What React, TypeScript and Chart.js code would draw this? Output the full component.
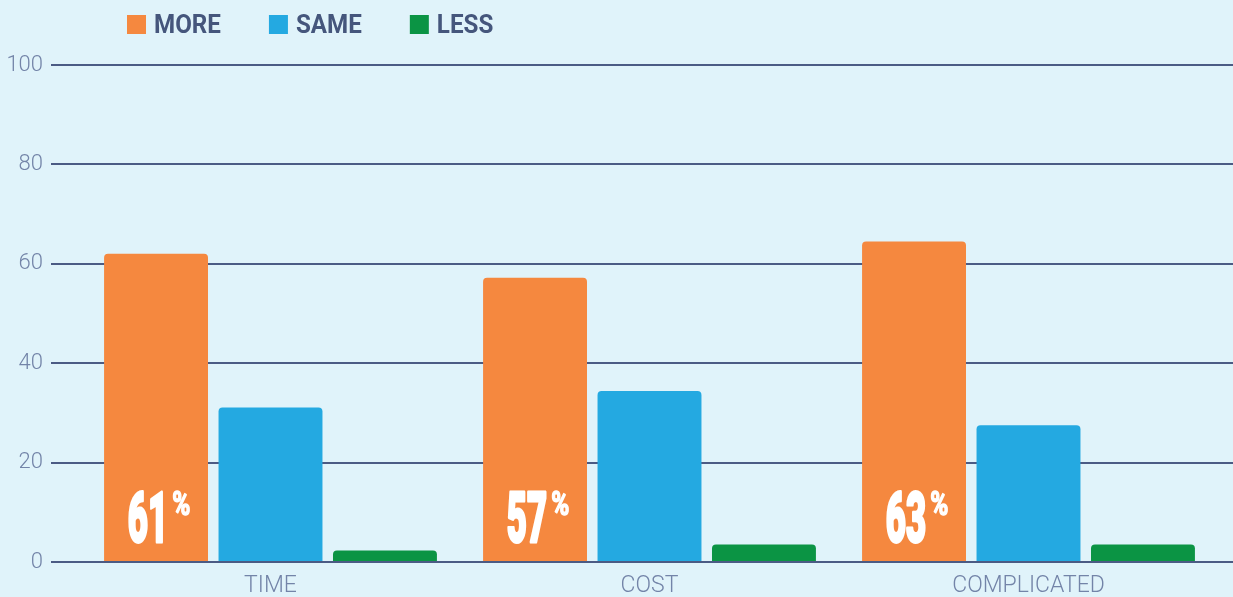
import React, { useEffect, useRef } from "react";
import { Chart, registerables } from "chart.js";

Chart.register(...registerables);

// ---- data ----
const categories = ["TIME", "COST", "COMPLICATED"];
const seriesNames = ["MORE", "SAME", "LESS"];
const moreValues = [62.0, 57.2, 64.5];
const sameValues = [31.1, 34.4, 27.5];
const lessValues = [2.3, 3.5, 3.5];
const moreLabels = ["61", "57", "63"];
const yTickValues = [0, 20, 40, 60, 80, 100];

// ---- styles ----
const seriesColors = ["#f5883f", "#24a9e1", "#0b9444"];
const BG = "#e0f3fa";
const GRID = "#4b5b84";
const TICK_COLOR = "#7384a8";
const LEGEND_TEXT = "#45567c";

const barLabelPlugin = {
  id: "barLabels",
  afterDatasetsDraw(chart: any) {
    const meta = chart.getDatasetMeta(0);
    const ctx = chart.ctx as CanvasRenderingContext2D;
    meta.data.forEach((bar: any, i: number) => {
      const label = moreLabels[i];
      if (!label) return;
      const { x, base } = bar.getProps(["x", "base"], true);
      const numFont = '900 71px "Roboto"';
      const pctFont = '700 33px "Roboto"';
      const sxNum = 0.49;
      const sxPct = 0.74;
      ctx.save();
      ctx.fillStyle = "#ffffff";
      ctx.strokeStyle = "#ffffff";
      ctx.lineJoin = "round";
      ctx.textAlign = "left";
      ctx.textBaseline = "alphabetic";
      ctx.font = numFont;
      const numW = ctx.measureText(label).width * sxNum;
      ctx.font = pctFont;
      const pctW = ctx.measureText("%").width * sxPct;
      const gap = 4;
      const total = numW + gap + pctW;
      const left = x - total / 2 + 3;
      // number
      ctx.save();
      ctx.translate(left, base - 19);
      ctx.scale(sxNum, 1);
      ctx.font = numFont;
      ctx.lineWidth = 3;
      ctx.strokeText(label, 0, 0);
      ctx.fillText(label, 0, 0);
      ctx.restore();
      // percent sign
      ctx.save();
      ctx.translate(left + numW + gap, base - 46);
      ctx.scale(sxPct, 1);
      ctx.font = pctFont;
      ctx.lineWidth = 1.5;
      ctx.strokeText("%", 0, 0);
      ctx.fillText("%", 0, 0);
      ctx.restore();
      ctx.restore();
    });
  },
};

const legendPlugin = {
  id: "topLegend",
  afterDraw(chart: any) {
    const ctx = chart.ctx as CanvasRenderingContext2D;
    const sx = 0.93;
    ctx.save();
    ctx.font = '700 26px "Roboto"';
    ctx.textBaseline = "middle";
    ctx.textAlign = "left";
    let x = chart.chartArea.left + 46;
    chart.data.datasets.forEach((ds: any) => {
      ctx.fillStyle = ds.backgroundColor;
      ctx.fillRect(x, 15, 19, 19);
      ctx.fillStyle = LEGEND_TEXT;
      ctx.save();
      ctx.translate(x + 27, 26.5);
      ctx.scale(sx, 1);
      ctx.fillText(ds.label, 0, 0);
      ctx.restore();
      x += 27 + ctx.measureText(ds.label).width * sx + 48;
    });
    ctx.restore();
  },
};

export default function App() {
  const canvasRef = useRef<HTMLCanvasElement | null>(null);

  useEffect(() => {
    if (!canvasRef.current) return;
    const valueSets = [moreValues, sameValues, lessValues];
    const chart = new Chart(canvasRef.current, {
      type: "bar",
      data: {
        labels: categories,
        datasets: valueSets.map((vals, i) => ({
          label: seriesNames[i],
          data: vals,
          backgroundColor: seriesColors[i],
          borderRadius: 4,
          borderSkipped: "start",
          barPercentage: 0.908,
          categoryPercentage: 0.906,
        })),
      },
      options: {
        animation: false,
        responsive: false,
        maintainAspectRatio: false,
        layout: { padding: { top: 65, left: 0, right: 0, bottom: 0 } },
        plugins: {
          legend: { display: false },
          tooltip: { enabled: false },
        },
        scales: {
          x: {
            grid: { display: false, drawTicks: false },
            border: { display: false },
            ticks: {
              color: TICK_COLOR,
              font: { family: "Roboto", weight: "300", size: 23 },
              padding: 10,
            },
            afterFit: (s: any) => {
              s.height = 35;
            },
          },
          y: {
            min: 0,
            max: 100,
            afterBuildTicks: (s: any) => {
              s.ticks = yTickValues.map((v) => ({ value: v }));
            },
            ticks: {
              color: TICK_COLOR,
              font: { family: "Roboto", weight: "300", size: 22 },
              padding: 8,
            },
            grid: { color: GRID, lineWidth: 2, tickLength: 30, drawTicks: true },
            border: { display: false },
            afterFit: (s: any) => {
              s.width = 81;
            },
          },
          y2: {
            position: "right",
            min: 0,
            max: 100,
            afterBuildTicks: (s: any) => {
              s.ticks = yTickValues.map((v) => ({ value: v }));
            },
            ticks: { display: false },
            grid: { drawOnChartArea: false, color: GRID, lineWidth: 2, tickLength: 15 },
            border: { display: false },
            afterFit: (s: any) => {
              s.width = 15;
            },
          },
        },
      },
      plugins: [barLabelPlugin, legendPlugin],
    } as any);
    return () => chart.destroy();
  }, []);

  return (
    <div
      style={{
        position: "fixed",
        left: 0,
        top: 0,
        width: 1233,
        height: 597,
        background: BG,
        overflow: "hidden",
      }}
    >
      <canvas ref={canvasRef} width={1233} height={597} style={{ display: "block", width: 1233, height: 597 }} />
    </div>
  );
}
